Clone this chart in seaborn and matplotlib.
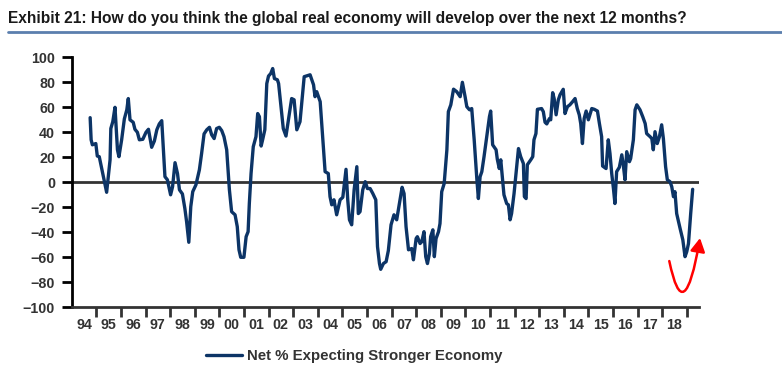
import numpy as np
import pandas as pd
import seaborn as sns
import matplotlib.pyplot as plt
from matplotlib.path import Path
from matplotlib.patches import FancyArrowPatch
from matplotlib.lines import Line2D

# 数据 (decimal year, net % expecting stronger economy)
years = [
    1994.75, 1994.79, 1994.84, 1994.98, 1995.04, 1995.12, 1995.42, 1995.56, 1995.59, 1995.67,
    1995.76, 1995.86, 1995.92, 1996.03, 1996.14, 1996.24, 1996.30, 1996.37, 1996.50, 1996.57,
    1996.67, 1996.75, 1996.89, 1997.02, 1997.12, 1997.25, 1997.36, 1997.46, 1997.56, 1997.66,
    1997.79, 1997.89, 1998.02, 1998.10, 1998.20, 1998.30, 1998.38, 1998.50, 1998.60, 1998.67,
    1998.76, 1998.84, 1998.92, 1999.05, 1999.19, 1999.28, 1999.38, 1999.49, 1999.60, 1999.69,
    1999.79, 1999.89, 2000.00, 2000.10, 2000.19, 2000.30, 2000.41, 2000.50, 2000.64, 2000.73,
    2000.80, 2000.87, 2001.00, 2001.09, 2001.17, 2001.22, 2001.29, 2001.38, 2001.49, 2001.56,
    2001.63, 2001.70, 2001.76, 2001.85, 2001.93, 2002.00, 2002.09, 2002.17, 2002.24, 2002.36,
    2002.41, 2002.60, 2002.71, 2002.81, 2002.94, 2003.04, 2003.15, 2003.28, 2003.45, 2003.69,
    2003.83, 2003.89, 2003.96, 2004.10, 2004.20, 2004.30, 2004.43, 2004.50, 2004.57, 2004.66,
    2004.77, 2004.91, 2005.02, 2005.07, 2005.15, 2005.22, 2005.29, 2005.38, 2005.48, 2005.59,
    2005.65, 2005.72, 2005.83, 2005.93, 2006.02, 2006.13, 2006.24, 2006.36, 2006.43, 2006.51,
    2006.56, 2006.67, 2006.78, 2006.87, 2006.98, 2007.10, 2007.21, 2007.32, 2007.43, 2007.51,
    2007.59, 2007.69, 2007.82, 2007.89, 2008.00, 2008.05, 2008.16, 2008.23, 2008.32, 2008.39,
    2008.46, 2008.54, 2008.59, 2008.68, 2008.74, 2008.81, 2008.91, 2008.97, 2009.04, 2009.14,
    2009.25, 2009.31, 2009.41, 2009.52, 2009.65, 2009.79, 2009.88, 2009.99, 2010.06, 2010.17,
    2010.26, 2010.36, 2010.47, 2010.53, 2010.60, 2010.67, 2010.76, 2010.87, 2010.98, 2011.03,
    2011.11, 2011.25, 2011.30, 2011.38, 2011.44, 2011.57, 2011.68, 2011.75, 2011.82, 2011.88,
    2011.98, 2012.09, 2012.16, 2012.25, 2012.36, 2012.40, 2012.47, 2012.52, 2012.66, 2012.74,
    2012.79, 2012.87, 2012.93, 2013.10, 2013.17, 2013.24, 2013.31, 2013.42, 2013.47, 2013.55,
    2013.61, 2013.69, 2013.78, 2013.85, 2013.98, 2014.05, 2014.15, 2014.25, 2014.36, 2014.46,
    2014.55, 2014.63, 2014.69, 2014.76, 2014.83, 2014.91, 2015.00, 2015.14, 2015.24, 2015.37,
    2015.45, 2015.54, 2015.58, 2015.72, 2015.81, 2015.88, 2015.95, 2016.02, 2016.08, 2016.15,
    2016.26, 2016.36, 2016.42, 2016.49, 2016.56, 2016.67, 2016.72, 2016.83, 2016.90, 2016.97,
    2017.10, 2017.21, 2017.31, 2017.37, 2017.51, 2017.58, 2017.64, 2017.71, 2017.80, 2017.89,
    2017.98, 2018.05, 2018.14, 2018.21, 2018.32, 2018.39, 2018.46, 2018.52, 2018.59, 2018.73,
    2018.84, 2018.93, 2019.00, 2019.07, 2019.16, 2019.24,
]
net_pct = [
    51.7, 34, 30, 31, 21, 20.5, -8, 18, 43, 48.5,
    60, 26, 20.5, 34, 50.7, 58, 67, 50, 48, 42.4,
    40, 34, 34.4, 40, 42.4, 28, 33, 42, 46.7, 49.3,
    4.5, 2, -10, -3.5, 15.7, 7, -6, -9.3, -21, -31.5,
    -48, -19.5, -7.5, -2, 10, 23, 38.7, 42, 44, 38,
    35, 43, 44, 41.3, 36.5, 26, -6, -23.5, -26, -35.5,
    -54, -60, -60, -43.5, -39.5, -17, 7, 28.5, 36.5, 55,
    52.5, 29, 34, 42, 79, 85, 87, 91, 83, 82,
    79, 43, 37, 50, 67, 66, 42, 48.5, 84.5, 86,
    78, 68.5, 72.5, 64.5, 36.5, 8.5, 7, -11.5, -18, -14,
    -26, -14, -12, -3.5, 10.4, -14, -30, -34, -6, 12.5,
    -25, -23.5, -6, 0.5, -5, -5, -9, -14, -51.5, -65,
    -69.6, -65, -63.5, -54.7, -34, -26, -30, -17, -4, -9,
    -35.5, -54, -53, -62, -45, -43.5, -49, -47.5, -39.5, -59.5,
    -65, -57, -43.5, -38, -59.5, -45, -39.5, -33, -7.5, -1,
    26, 56.5, 62, 74.5, 72.5, 68.5, 80, 68.5, 60.5, 58,
    59, 34, 2, -13, 4.5, 8.5, 20.5, 36.5, 52.5, 57,
    30, 26, 18.4, 11, 18, -10, -17, -18, -30, -25,
    -9, 12.5, 27, 20.5, 15, -11.5, -13, 14, 18, 20.5,
    34, 39, 58.4, 59, 56.5, 48, 46.7, 51, 50, 71.7,
    67, 54, 66, 70, 74.4, 55, 60.5, 62, 64.5, 67,
    59, 54, 47, 31, 51, 57, 50, 59, 58.4, 57,
    47, 36.5, 13, 11, 34, 23, 7, -5, -17, 8.5,
    12, 22, 14, 2, 24.5, 16.5, 19, 34, 58, 62,
    58, 52.5, 47, 39, 36.5, 35, 26, 40.5, 31, 36.5,
    46, 35, 12.5, 2, 0.5, -3.5, -11.5, -7.5, -25, -37,
    -46, -59.5, -55.5, -49, -25, -5.6,
]
year_labels = ["94", "95", "96", "97", "98", "99", "00", "01", "02", "03", "04", "05", "06",
               "07", "08", "09", "10", "11", "12", "13", "14", "15", "16", "17", "18"]

df = pd.DataFrame({"year": years, "value": net_pct})

sns.set_style("white")
plt.rcParams["font.family"] = ["Liberation Sans", "DejaVu Sans"]

navy = "#0c3466"
grey = "#333333"

fig = plt.figure(figsize=(7.82, 3.86), dpi=100)
ax = fig.add_axes([71.7 / 782, 78.7 / 386, (699.3 - 71.7) / 782, 250 / 386])

sns.lineplot(data=df, x="year", y="value", ax=ax, color=navy, linewidth=2.4,
             label="Net % Expecting Stronger Economy")
ax.axhline(0, color=grey, lw=2, zorder=1)

ax.set_xlim(1994, 2019.51)
ax.set_ylim(-100, 100)
ax.set_yticks(range(-100, 101, 20))
ax.set_xticks(range(1995, 2020))
ax.set_xticklabels([])
ax.set_xticks(np.arange(1994.5, 2019, 1.0), minor=True)
ax.set_xticklabels(year_labels, minor=True)
ax.tick_params(axis="x", which="major", bottom=True, length=7, width=2, color=grey, direction="out")
ax.tick_params(axis="x", which="minor", bottom=True, length=0, pad=8, labelsize=10.3, labelcolor=grey)
ax.tick_params(axis="y", left=True, length=7, width=2, color="black", pad=5, labelsize=10.3, labelcolor=grey)
for lab in ax.get_xticklabels(minor=True) + ax.get_yticklabels():
    lab.set_fontweight("bold")

for s in ["top", "right"]:
    ax.spines[s].set_visible(False)
ax.spines["left"].set_color("black")
ax.spines["left"].set_linewidth(2)
ax.spines["bottom"].set_color(grey)
ax.spines["bottom"].set_linewidth(2)
ax.set(xlabel=None, ylabel=None)

leg = ax.legend(loc="center left", bbox_to_anchor=(198 / 782, 1 - 356 / 386),
                bbox_transform=fig.transFigure, frameon=False, borderpad=0,
                handlelength=2.4, handletextpad=0.35,
                prop={"weight": "bold", "size": 10.8})
for t in leg.get_texts():
    t.set_color(grey)

# red arrow annotation
p0, p1, p2 = (2018.29, -63), (2018.885, -119.6), (2019.54, -44.6)
arrow_path = Path([p0, p1, p2], [Path.MOVETO, Path.CURVE3, Path.CURVE3])
arrow = FancyArrowPatch(path=arrow_path, arrowstyle="-|>,head_length=0.4,head_width=0.22",
                        mutation_scale=20, color="red", lw=1.8, shrinkA=0, shrinkB=0,
                        clip_on=False)
ax.add_patch(arrow)

# title and rule
fig.text(8 / 782, 1 - 23 / 386,
         "Exhibit 21: How do you think the global real economy will develop over the next 12 months?",
         fontsize=11.2, fontweight="bold", color="#1a1a1a", va="baseline",
         family=["Liberation Sans", "DejaVu Sans"])
fig.add_artist(Line2D([8 / 782, 1.0], [1 - 32 / 386] * 2, color="#5b7fae", lw=2))

fig.savefig("out.png", dpi=100)
